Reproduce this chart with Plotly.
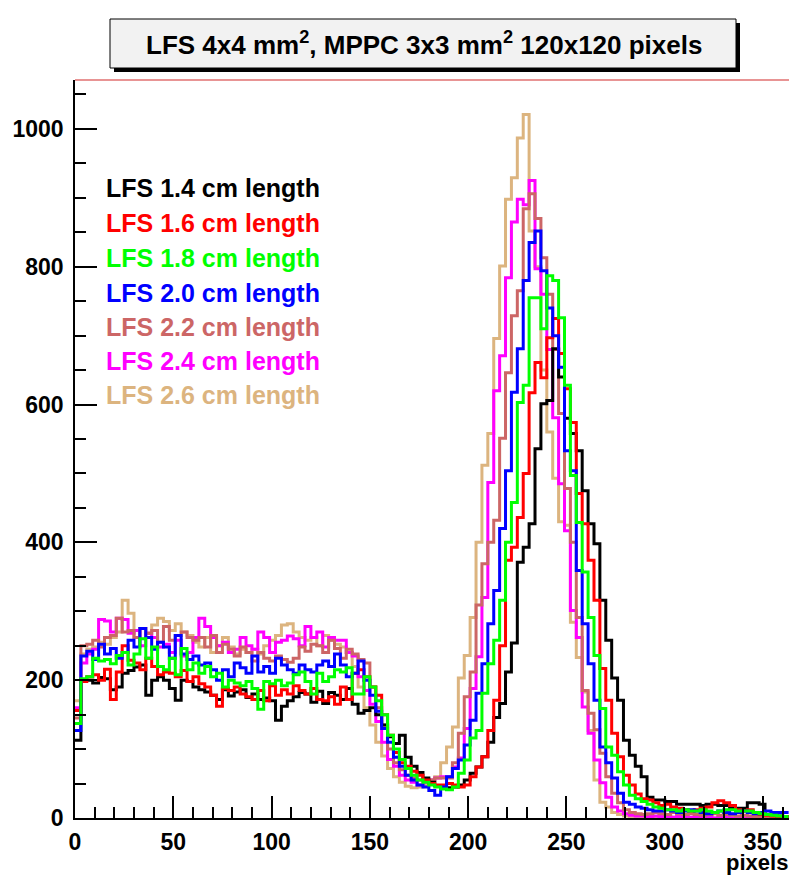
import plotly.graph_objects as go

# ---------------- data (bin width 3 pixels, 121 bins from 0 to 363) ----------------
bin_width = 3
n_bins = 121

lfs_1_4 = ([113, 200, 200, 196, 204, 202, 186, 190, 210, 214,
            219, 222, 178, 200, 205, 200, 188, 171, 200, 198,
            190, 186, 183, 178, 172, 186, 177, 183, 186, 175,
            180, 172, 174, 170, 142, 162, 170, 176, 182, 180,
            168, 184, 166, 182, 178, 172, 188, 165, 152, 156]
           + [160, 150, 135, 118, 108, 120, 88, 75, 66, 58, 52, 47, 45]
           + [44, 45, 48, 55, 65, 74, 89, 110, 146, 166, 212, 254, 371, 393, 427, 536,
              601, 606, 681, 640, 580, 558, 533, 475, 427, 398, 316, 258, 203, 171, 113, 91, 75]
           + [60, 30, 26, 26, 24, 24, 20, 20, 20, 20, 18, 20, 20, 18, 18, 14, 14, 14, 22, 22,
              20, 5, 4, 3, 2])

lfs_1_6 = ([156, 198, 205, 208, 200, 216, 172, 212, 250, 229,
            225, 215, 232, 220, 208, 212, 210, 205, 214, 198,
            205, 195, 190, 178, 162, 188, 185, 190, 180, 176,
            172, 185, 170, 192, 178, 186, 180, 192, 185, 180,
            188, 172, 170, 176, 165, 190, 172, 210, 215, 205]
           + [190, 178, 150, 120, 95, 80, 75, 68, 62, 55, 50, 48, 48]
           + [50, 48, 45, 48, 60, 74, 89, 127, 171, 250, 374, 393, 436, 500, 617, 661,
              639, 697, 725, 674, 623, 574, 471, 427, 374, 316, 217, 171, 123, 89, 62, 48, 35]
           + [28, 26, 22, 18, 20, 16, 14, 12, 10, 12, 14, 16, 22, 25, 22, 18, 12, 10, 12, 8,
              5, 4, 3, 2, 2])

lfs_1_8 = ([137, 202, 205, 232, 228, 230, 224, 236, 240, 222,
            238, 260, 232, 248, 220, 215, 232, 208, 246, 215,
            225, 210, 220, 205, 210, 190, 200, 196, 192, 198,
            188, 158, 198, 195, 200, 192, 196, 208, 212, 198,
            180, 210, 198, 205, 215, 212, 218, 180, 180, 205]
           + [190, 170, 150, 120, 100, 85, 72, 62, 55, 52, 48, 45, 42]
           + [41, 45, 65, 84, 116, 127, 181, 224, 258, 316, 400, 458, 603, 628, 755, 755,
              710, 787, 780, 726, 628, 497, 429, 357, 291, 236, 159, 103, 91, 67, 48, 33, 28]
           + [24, 20, 16, 14, 12, 12, 10, 12, 10, 10, 12, 10, 8, 10, 12, 12, 10, 10, 10, 8,
              6, 5, 4, 3, 2])

lfs_2_0 = ([127, 235, 242, 230, 252, 238, 246, 232, 240, 258,
            248, 275, 262, 245, 255, 248, 232, 265, 238, 230,
            235, 222, 225, 215, 200, 215, 205, 225, 218, 210,
            235, 212, 220, 210, 232, 222, 215, 210, 222, 215,
            212, 222, 228, 220, 238, 222, 205, 210, 228, 200]
           + [178, 155, 130, 110, 88, 75, 62, 55, 48, 45, 40, 33, 45]
           + [60, 72, 84, 106, 142, 181, 224, 282, 330, 420, 504, 618, 681, 780, 835, 852,
              794, 740, 700, 654, 533, 504, 359, 282, 224, 171, 103, 80, 58, 36, 23, 20, 16]
           + [14, 12, 10, 10, 12, 10, 8, 10, 12, 10, 8, 6, 8, 10, 8, 6, 8, 10, 8, 6,
              8, 10, 8, 8, 8])

lfs_2_2 = ([145, 250, 252, 258, 248, 262, 265, 290, 270, 272,
            262, 275, 268, 272, 255, 278, 258, 265, 270, 262,
            258, 262, 248, 265, 240, 252, 245, 235, 248, 240,
            228, 240, 232, 228, 235, 230, 226, 232, 248, 242,
            252, 250, 240, 258, 246, 232, 245, 238, 230, 225]
           + [190, 160, 135, 100, 80, 70, 62, 58, 55, 55, 55, 58, 58]
           + [58, 80, 123, 176, 212, 309, 369, 400, 432, 551, 646, 729, 765, 884, 906, 870,
              813, 760, 680, 587, 478, 400, 291, 185, 152, 128, 94, 60, 36, 22, 12, 8, 6]
           + [5, 6, 8, 6, 5, 8, 6, 5, 6, 5, 4, 5, 6, 4, 5, 4, 3, 4, 3, 2,
              3, 2, 2, 1, 1])

lfs_2_4 = ([160, 225, 238, 245, 288, 286, 270, 290, 288, 268,
            272, 250, 268, 262, 248, 252, 240, 258, 235, 240,
            262, 290, 278, 262, 250, 255, 240, 245, 262, 250,
            245, 270, 262, 240, 255, 258, 264, 260, 250, 278,
            262, 270, 248, 262, 258, 258, 240, 235, 205, 185]
           + [165, 140, 110, 85, 75, 62, 55, 52, 48, 52, 55, 58, 60]
           + [60, 74, 87, 130, 188, 234, 320, 487, 620, 671, 784, 865, 898, 890, 925, 797,
              760, 680, 581, 485, 417, 301, 262, 161, 123, 84, 51, 30, 16, 10, 6, 4, 3]
           + [3, 2, 3, 2, 2, 1, 2, 1, 1, 2, 1, 1, 0, 1, 1, 0, 1, 0, 0, 1,
              0, 0, 0, 0, 0])

lfs_2_6 = ([170, 238, 245, 248, 255, 252, 262, 270, 316, 297,
            262, 275, 268, 280, 290, 285, 272, 282, 270, 265,
            255, 248, 262, 240, 250, 262, 248, 238, 245, 240,
            245, 238, 250, 258, 265, 280, 282, 270, 262, 258,
            262, 250, 265, 258, 252, 248, 240, 220, 190, 160]
           + [135, 110, 90, 72, 60, 52, 46, 44, 45, 48, 55, 60, 80]
           + [103, 132, 203, 236, 291, 400, 512, 558, 696, 801, 898, 929, 987, 1021, 852, 800,
              650, 560, 493, 430, 425, 284, 233, 183, 127, 55, 23, 16, 8, 5, 3, 2, 1]
           + [1, 0, 1, 0, 0, 1, 0, 0, 0, 0, 1, 0, 0, 0, 0, 0, 0, 0, 0, 0,
              0, 0, 0, 0, 0])

series_names = ["LFS 1.4 cm length", "LFS 1.6 cm length", "LFS 1.8 cm length",
                "LFS 2.0 cm length", "LFS 2.2 cm length", "LFS 2.4 cm length",
                "LFS 2.6 cm length"]
series_values = [lfs_1_4, lfs_1_6, lfs_1_8, lfs_2_0, lfs_2_2, lfs_2_4, lfs_2_6]
series_colors = ["#000000", "#ff0000", "#00ff00", "#0000ff", "#cc6666", "#ff00ff", "#dcb47f"]
draw_order = [6, 5, 4, 0, 1, 3, 2]

for v in series_values:
    assert len(v) == n_bins, len(v)

x_tick_vals = [0, 50, 100, 150, 200, 250, 300, 350]
y_tick_vals = [0, 200, 400, 600, 800, 1000]
title_text = "LFS 4x4 mm<sup>2</sup>, MPPC 3x3 mm<sup>2</sup> 120x120 pixels"
x_title = "pixels"

# ---------------- figure ----------------
W, H = 789, 875
ML, MR, MT, MB = 75, 0, 80, 57
PW, PH = W - ML - MR, H - MT - MB
FONT = "Liberation Sans, Arial, Helvetica, sans-serif"


def px_x(p):
    return (p - ML) / PW


def px_y(p):
    return (H - MB - p) / PH


edges = [bin_width * i for i in range(n_bins + 1)]

fig = go.Figure()
for idx in draw_order:
    vals = series_values[idx]
    fig.add_trace(go.Scatter(
        x=edges, y=list(vals) + [vals[-1]],
        mode="lines", line=dict(shape="hv", color=series_colors[idx], width=3),
        name=series_names[idx], showlegend=False, hoverinfo="skip"))

axis_common = dict(
    showline=True, linecolor="black", linewidth=1.5,
    ticks="inside", tickcolor="black", tickwidth=1.5, ticklen=22,
    showgrid=False, zeroline=False, automargin=False,
    tickfont=dict(family=FONT, size=23, color="black", weight="bold"),
)

fig.update_xaxes(range=[0, 363.2], tickvals=x_tick_vals,
                 minor=dict(dtick=10, tick0=0, ticks="inside", ticklen=11,
                            tickwidth=1.5, tickcolor="black", showgrid=False),
                 ticklabelstandoff=3, **axis_common)
fig.update_yaxes(range=[0, 1071], tickvals=y_tick_vals,
                 minor=dict(dtick=50, tick0=0, ticks="inside", ticklen=11,
                            tickwidth=1.5, tickcolor="black", showgrid=False),
                 ticklabelstandoff=5, **axis_common)

shapes = [
    # top frame line (reddish)
    dict(type="line", xref="paper", yref="paper", x0=0, x1=1.01, y0=1, y1=1,
         line=dict(color="#e07070", width=1.5)),
    # title box shadow
    dict(type="rect", xref="paper", yref="paper",
         x0=px_x(114), x1=px_x(740), y0=px_y(72), y1=px_y(23),
         fillcolor="#000000", line=dict(width=0), layer="above"),
    # title box
    dict(type="rect", xref="paper", yref="paper",
         x0=px_x(110), x1=px_x(736), y0=px_y(68), y1=px_y(19),
         fillcolor="#f2f2f2", line=dict(color="black", width=1), layer="above"),
]

annotations = [
    dict(text=title_text, xref="paper", yref="paper", x=px_x(424), y=px_y(44),
         xanchor="center", yanchor="middle", showarrow=False,
         font=dict(family=FONT, size=26, color="black", weight="bold")),
    dict(text=x_title, xref="paper", yref="paper", x=1.0, y=px_y(862),
         xanchor="right", yanchor="middle", showarrow=False, borderpad=0,
         font=dict(family=FONT, size=22, color="black", weight="bold")),
]

legend_y = [188, 223, 258, 293, 327, 361, 395]
for name, col, ly in zip(series_names, series_colors, legend_y):
    annotations.append(dict(text=name, xref="paper", yref="paper", x=px_x(104), y=px_y(ly),
                            xanchor="left", yanchor="middle", showarrow=False,
                            font=dict(family=FONT, size=25, color=col, weight="bold")))

fig.update_layout(width=W, height=H, autosize=False,
                  margin=dict(l=ML, r=MR, t=MT, b=MB, pad=0),
                  paper_bgcolor="white", plot_bgcolor="white",
                  shapes=shapes, annotations=annotations, showlegend=False)

fig.write_html("out.html", config={"displayModeBar": False},
               post_script="document.body.style.margin='0';document.body.style.padding='0';"
                           "document.body.style.overflow='hidden';")
